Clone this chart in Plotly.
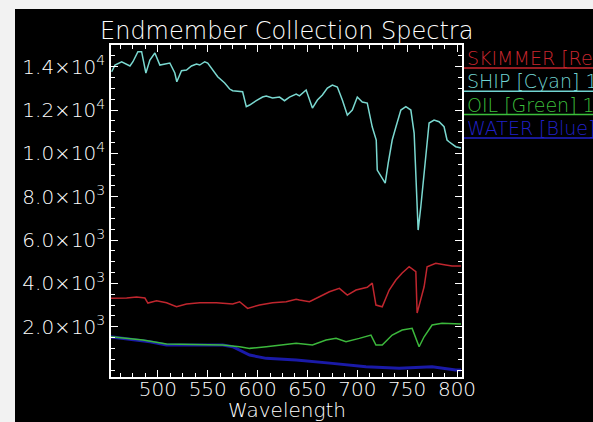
import plotly.graph_objects as go

# ---- data ----
ship_w = [453.7, 457, 463.7, 468.7, 472, 475, 480, 483.7, 488, 492, 497, 502, 508.7, 512, 517, 519,
          523.7, 528.7, 533.7, 538.7, 542, 547, 550, 555, 560, 567, 572, 575, 585, 588.7, 592, 598.7,
          605, 608.7, 615, 622, 627, 632, 638.7, 642, 648.7, 655, 660, 665, 670, 675, 680, 685, 690,
          695, 700, 705, 710, 715, 719, 720, 723.7, 728, 731, 735, 738.7, 743.7, 748.7, 753.7, 757,
          758.7, 761, 763.7, 767, 770, 772, 777, 782, 787, 790, 792, 798.7, 804]
ship_v = [13766, 14076, 14228, 14122, 14030, 14228, 14690, 14690, 13706, 14307, 14630, 14076, 14122,
          14168, 13706, 13305, 13813, 13845, 14030, 14122, 14076, 14228, 14168, 13845, 13536, 13245,
          12968, 12890, 12844, 12152, 12230, 12429, 12599, 12645, 12553, 12599, 12429, 12599, 12737,
          12650, 12922, 12091, 12460, 12691, 13014, 13153, 13060, 12460, 11768, 11999, 12599, 12368,
          12322, 11214, 10615, 9230, 8921, 8630, 9553, 10615, 11214, 11999, 12152, 11999, 10938, 9230,
          6461, 7537, 9092, 10615, 11399, 11538, 11460, 11228, 10615, 10536, 10306, 10245]

skim_w = [452, 468.7, 478.7, 487, 490, 498.7, 508.7, 518.7, 528.7, 542, 558.7, 575, 582, 590, 602,
          615, 628.7, 638.7, 642, 652, 662, 672, 682, 690, 698.7, 710, 715, 718.7, 725, 732, 738.7,
          745, 752, 758.7, 760, 763.7, 767, 770, 778.7, 788.7, 795, 804]
skim_v = [3309, 3323, 3369, 3323, 3092, 3198, 3106, 2921, 3046, 3106, 3106, 3046, 3152, 2848, 3000,
          3106, 3152, 3263, 3230, 3152, 3383, 3614, 3770, 3461, 3692, 3817, 4015, 3000, 2921, 3692,
          4153, 4477, 4767, 4537, 2630, 3230, 3844, 4767, 4924, 4846, 4800, 4800]

oil_w = [452, 468.7, 485, 508.7, 542, 565, 582, 592, 608.7, 625, 638.7, 655, 668.7, 678.7, 688.7,
         702, 713.7, 718.7, 725, 735, 745, 755, 762, 767, 775, 785, 804]
oil_v = [1537, 1463, 1385, 1200, 1154, 1154, 1075, 1001, 1075, 1154, 1232, 1154, 1385, 1463, 1306,
         1463, 1615, 1154, 1154, 1615, 1846, 1924, 1075, 1537, 2077, 2155, 2123]

water_w = [452, 475, 492, 508.7, 542, 565, 575, 592, 608.7, 638.7, 675, 708.7, 742, 775, 798.7, 804]
water_v = [1537, 1385, 1306, 1154, 1154, 1154, 1075, 692, 540, 461, 309, 152, 78, 152, 0, 0]

x_ticks = [500, 550, 600, 650, 700, 750, 800]
y_ticks = [2000, 4000, 6000, 8000, 10000, 12000, 14000]
y_ticktext = ["2.0×10<sup>3</sup>", "4.0×10<sup>3</sup>", "6.0×10<sup>3</sup>", "8.0×10<sup>3</sup>",
              "1.0×10<sup>4</sup>", "1.2×10<sup>4</sup>", "1.4×10<sup>4</sup>"]

legend_labels = ["SKIMMER [Red] 1", "SHIP [Cyan] 1", "OIL [Green] 1", "WATER [Blue] 1"]
legend_colors = ["#c8262e", "#72d4d2", "#3cbf3c", "#2020c8"]

title_text = "Endmember Collection Spectra"
xlabel_text = "Wavelength"

# ---- figure ----
W, H = 593, 422
L, R, T, B = 111, 131, 45, 45
PW, PH = W - L - R, H - T - B

def px(x):
    return (x - L) / PW

def py(y):
    return (H - B - y) / PH

FONT = "DejaVu Sans"

fig = go.Figure()
fig.add_trace(go.Scatter(x=ship_w, y=ship_v, mode="lines", line=dict(color="#7ad8d0", width=1.5)))
fig.add_trace(go.Scatter(x=skim_w, y=skim_v, mode="lines", line=dict(color="#c0262e", width=1.5)))
fig.add_trace(go.Scatter(x=water_w, y=water_v, mode="lines", line=dict(color="#1a1aa8", width=3)))
fig.add_trace(go.Scatter(x=oil_w, y=oil_v, mode="lines", line=dict(color="#3cb83c", width=1.5)))

axis_common = dict(
    showline=True, linecolor="white", linewidth=1.5, mirror="allticks",
    ticks="inside", ticklen=7, tickwidth=1, tickcolor="white",
    showgrid=False, zeroline=False,
)

fig.update_xaxes(range=[453, 805], tickvals=x_ticks, ticktext=[str(v) for v in x_ticks],
                 tickfont=dict(family=FONT, size=20, color="white", weight=200),
                 ticklabelstandoff=-7,
                 minor=dict(dtick=12.5, tick0=500, ticks="inside", ticklen=4, tickcolor="white",
                            showgrid=False),
                 **axis_common)
fig.update_yaxes(range=[-320, 15000], tickvals=y_ticks, ticktext=y_ticktext,
                 tickfont=dict(family=FONT, size=20, color="white", weight=200),
                 minor=dict(dtick=500, tick0=0, ticks="inside", ticklen=4, tickcolor="white",
                            showgrid=False),
                 **axis_common)

shapes = [
    dict(type="rect", xref="paper", yref="paper", x0=px(-5), x1=px(15), y0=py(430), y1=py(-5),
         fillcolor="#f2f2f2", line=dict(width=0), layer="below"),
    dict(type="rect", xref="paper", yref="paper", x0=px(-5), x1=px(600), y0=py(9), y1=py(-5),
         fillcolor="#f2f2f2", line=dict(width=0), layer="below"),
]
annotations = [
    dict(text=title_text, xref="paper", yref="paper", x=0.5, y=py(31), xanchor="center",
         yanchor="middle", showarrow=False,
         font=dict(family=FONT, size=24, color="white", weight=200)),
    dict(text=xlabel_text, xref="paper", yref="paper", x=0.5, y=py(410), xanchor="center",
         yanchor="middle", showarrow=False,
         font=dict(family=FONT, size=20, color="white", weight=200)),
]
for i, (lab, col) in enumerate(zip(legend_labels, legend_colors)):
    ty = 58 + 23.3 * i
    ly = 68 + 23.3 * i
    annotations.append(dict(text=lab, xref="paper", yref="paper", x=px(465), y=py(ty),
                            xanchor="left", yanchor="middle", showarrow=False,
                            font=dict(family=FONT, size=19, color=col, weight=200)))
    shapes.append(dict(type="line", xref="paper", yref="paper", x0=px(464), x1=px(600),
                       y0=py(ly), y1=py(ly), line=dict(color=col, width=1.5)))

fig.update_layout(
    width=W, height=H, autosize=False,
    margin=dict(l=L, r=R, t=T, b=B, pad=0),
    paper_bgcolor="black", plot_bgcolor="black",
    showlegend=False,
    shapes=shapes, annotations=annotations,
)

fig.write_html("out.html")
